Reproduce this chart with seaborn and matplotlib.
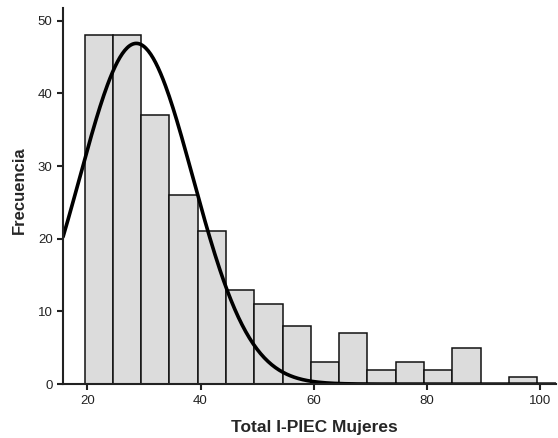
import numpy as np
import pandas as pd
import seaborn as sns
from matplotlib import pyplot as plt

# histogram: bins of width 5 starting at 19.5
bin_edges = [19.5, 24.5, 29.5, 34.5, 39.5, 44.5, 49.5, 54.5, 59.5,
             64.5, 69.5, 74.5, 79.5, 84.5, 89.5, 94.5, 99.5]
counts = [48, 48, 37, 26, 21, 13, 11, 8, 3, 7, 2, 3, 2, 5, 0, 1]

# fitted normal curve parameters (estimated)
curve_mean = 28.65
curve_sd = 10.0
bin_width = 5

sns.set_style("ticks")
plt.rcParams['font.family'] = ['Liberation Sans', 'DejaVu Sans']

centers = [(bin_edges[i] + bin_edges[i + 1]) / 2 for i in range(len(counts))]
df = pd.DataFrame({"valor": centers, "n": counts})

fig = plt.figure(figsize=(5.58, 4.38), dpi=100)
ax = fig.add_axes([0.113, 0.123, 0.883, 0.858])

sns.histplot(data=df, x="valor", weights="n", bins=bin_edges,
             color="#dcdcdc", edgecolor="#111111", linewidth=1.1, alpha=1, ax=ax)

xs = np.linspace(15.7, 102.8, 400)
total = sum(counts)
ys = total * bin_width * np.exp(-0.5 * ((xs - curve_mean) / curve_sd) ** 2) / (curve_sd * np.sqrt(2 * np.pi))
sns.lineplot(x=xs, y=ys, color="black", linewidth=2.6, ax=ax)

ax.set_xlim(15.7, 102.8)
ax.set_ylim(0, 51.7)
ax.set_xticks([20, 40, 60, 80, 100])
ax.set_yticks([0, 10, 20, 30, 40, 50])
ax.tick_params(axis="both", labelsize=9.5, colors="#222222", width=1.5, length=4)
for s in ["top", "right"]:
    ax.spines[s].set_visible(False)
for s in ["left", "bottom"]:
    ax.spines[s].set_linewidth(1.5)
    ax.spines[s].set_color("#222222")

ax.set_xlabel("Total I-PIEC Mujeres", fontsize=12.5, fontweight="bold")
ax.set_ylabel("Frecuencia", fontsize=12, fontweight="bold")
ax.xaxis.set_label_coords(0.51, -0.095)
ax.yaxis.set_label_coords(-0.073, 0.515)

fig.savefig("out.png", dpi=100)
